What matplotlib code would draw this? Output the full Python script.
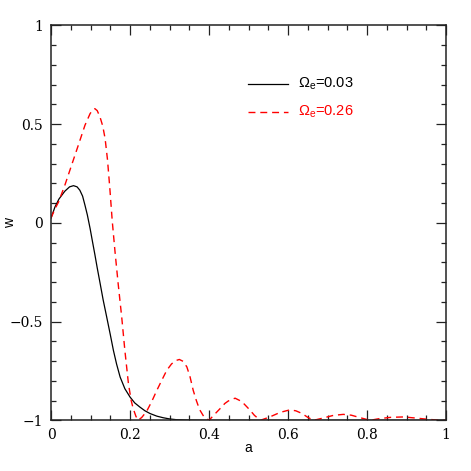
import matplotlib
matplotlib.use("Agg")
import matplotlib.pyplot as plt
from matplotlib.lines import Line2D

# Data
a_black = [0.000, 0.010, 0.020, 0.035, 0.047, 0.057, 0.066, 0.073, 0.080, 0.086,
           0.092, 0.099, 0.105, 0.111, 0.117, 0.124, 0.132, 0.141, 0.150, 0.158,
           0.166, 0.175, 0.187, 0.200, 0.212, 0.225, 0.238, 0.251, 0.268, 0.284,
           0.300, 0.318, 0.350, 0.400, 1.000]
w_black = [0.024, 0.080, 0.120, 0.160, 0.182, 0.188, 0.182, 0.165, 0.135, 0.089,
           0.040, -0.029, -0.095, -0.160, -0.228, -0.303, -0.390, -0.477, -0.565, -0.646,
           -0.715, -0.781, -0.840, -0.882, -0.912, -0.933, -0.952, -0.966, -0.979, -0.987,
           -0.993, -0.997, -0.999, -1.000, -1.000]

a_red = [0.000, 0.010, 0.019, 0.035, 0.052, 0.069, 0.086, 0.099, 0.106, 0.111,
         0.117, 0.124, 0.131, 0.137, 0.143, 0.149, 0.155, 0.162, 0.170, 0.179,
         0.187, 0.196, 0.203, 0.208, 0.215, 0.221, 0.230, 0.242, 0.255, 0.268,
         0.281, 0.293, 0.305, 0.315, 0.325, 0.335, 0.344, 0.352, 0.360, 0.368,
         0.376, 0.388, 0.400, 0.414, 0.428, 0.440, 0.449, 0.466, 0.483, 0.495,
         0.504, 0.515, 0.530, 0.554, 0.580, 0.605, 0.620, 0.635, 0.650, 0.665,
         0.690, 0.715, 0.740, 0.760, 0.785, 0.808, 0.830, 0.860, 0.892, 0.920,
         0.950, 0.985, 1.000]
w_red = [0.024, 0.070, 0.105, 0.190, 0.291, 0.392, 0.494, 0.553, 0.572, 0.578,
         0.568, 0.536, 0.490, 0.426, 0.320, 0.173, 0.010, -0.145, -0.308, -0.477,
         -0.646, -0.814, -0.900, -0.940, -0.980, -1.000, -0.985, -0.955, -0.905, -0.848,
         -0.795, -0.747, -0.715, -0.698, -0.692, -0.702, -0.730, -0.780, -0.848, -0.900,
         -0.945, -0.985, -1.000, -0.970, -0.941, -0.915, -0.902, -0.888, -0.905, -0.930,
         -0.949, -0.975, -1.000, -0.983, -0.960, -0.947, -0.952, -0.965, -0.985, -1.000,
         -0.988, -0.975, -0.970, -0.974, -0.988, -1.000, -0.992, -0.985, -0.983, -0.988,
         -0.994, -1.000, -1.000]

labels = [r'$\Omega_{\rm e}$=0.03', r'$\Omega_{\rm e}$=0.26']
colors = ['black', 'red']

x_ticks = [0, 0.2, 0.4, 0.6, 0.8, 1.0]
x_ticklabels = ['0', '0.2', '0.4', '0.6', '0.8', '1']
y_ticks = [-1, -0.5, 0, 0.5, 1]
y_ticklabels = ['\u22121', '\u22120.5', '0', '0.5', '1']

plt.rcParams['mathtext.fontset'] = 'custom'
plt.rcParams['mathtext.rm'] = 'Liberation Sans'
plt.rcParams['mathtext.it'] = 'Liberation Sans:italic'

fig = plt.figure(figsize=(4.71, 4.71), dpi=100)
ax = fig.add_axes([51/471, 1 - 420.3/471, 395/471, 395/471])

ax.plot(a_black, w_black, color=colors[0], lw=0.9, solid_joinstyle='round')
ax.plot(a_red, w_red, color=colors[1], lw=1.0, dashes=(5, 3.5))

ax.set_xlim(0, 1)
ax.set_ylim(-1, 1)
ax.set_xticks(x_ticks)
ax.set_xticklabels(x_ticklabels)
ax.set_yticks(y_ticks)
ax.set_yticklabels(y_ticklabels)
ax.set_xticks([i * 0.05 for i in range(21)], minor=True)
ax.set_yticks([-1 + i * 0.1 for i in range(21)], minor=True)
ax.tick_params(which='both', direction='in', top=True, right=True, width=0.9, color='#222222')
ax.tick_params(which='major', length=7, pad=5.5, labelsize=10)
ax.tick_params(which='minor', length=3.6)
for lab in ax.get_xticklabels() + ax.get_yticklabels():
    lab.set_family('DejaVu Serif')
for sp in ax.spines.values():
    sp.set_linewidth(1.1)
    sp.set_color('#222222')

ax.set_xlabel('a', family='Liberation Sans', fontsize=10, va='center')
ax.set_ylabel('w', family='Liberation Sans', fontsize=10, va='center')
ax.xaxis.set_label_coords(0.5, -0.07)
ax.yaxis.set_label_coords(-0.105, 0.5)

# manual legend
leg_y = [0.851, 0.780]
for i in range(2):
    ax.add_line(Line2D([0.499, 0.600], [leg_y[i], leg_y[i]], transform=ax.transAxes,
                       color=colors[i], lw=0.9 if i == 0 else 1.0,
                       dashes=(None, None) if i == 0 else (5, 3.5)))
    ax.text(0.625, leg_y[i], labels[i], transform=ax.transAxes, color=colors[i],
            family='Liberation Sans', fontsize=10.5, va='center', ha='left')

fig.savefig('out.png', dpi=100)
